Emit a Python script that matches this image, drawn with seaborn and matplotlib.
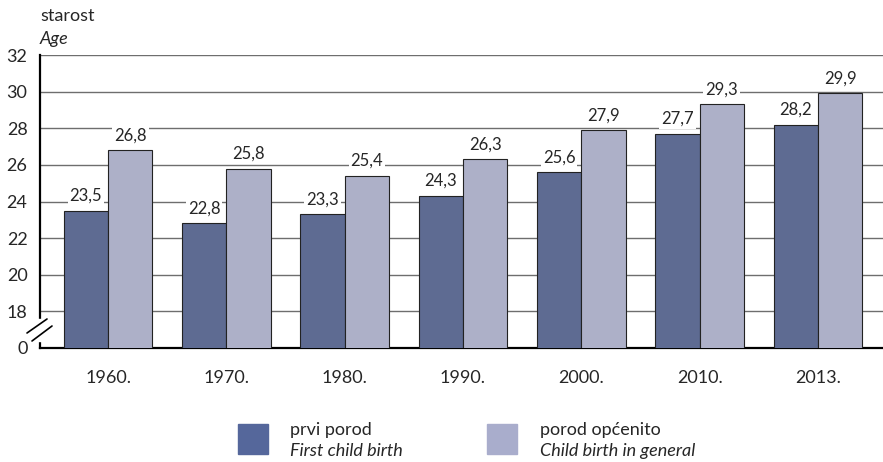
import pandas as pd
import matplotlib.pyplot as plt
import seaborn as sns
from matplotlib.patches import Rectangle

# data
godine = ["1960.", "1970.", "1980.", "1990.", "2000.", "2010.", "2013."]
prvi_porod = [23.5, 22.8, 23.3, 24.3, 25.6, 27.7, 28.2]
porod_opcenito = [26.8, 25.8, 25.4, 26.3, 27.9, 29.3, 29.9]
serije = ["prvi porod", "porod općenito"]
serije_en = ["First child birth", "Child birth in general"]
boje = ["#55679b", "#a9adcc"]

df = pd.DataFrame({
    "godina": godine * 2,
    "vrijednost": prvi_porod + porod_opcenito,
    "serija": [serije[0]] * len(godine) + [serije[1]] * len(godine),
})

sns.set_style("white")
plt.rcParams["font.family"] = ["Lato", "DejaVu Sans"]

fig = plt.figure(figsize=(8.83, 4.62), dpi=100)
ax = fig.add_axes([40 / 883, 1 - 348 / 462, 1 - 40 / 883, (348 - 55) / 462])

sns.barplot(data=df, x="godina", y="vrijednost", hue="serija", palette=boje,
            width=0.75, edgecolor="#222222", linewidth=0.8, ax=ax, legend=False,
            zorder=3)

ax.set_xlim(-0.575, 6.55)
ax.set_ylim(16, 32)
ax.set_yticks(range(16, 33, 2))
ax.set_yticklabels(["0"] + [str(v) for v in range(18, 33, 2)], fontsize=13)
ax.tick_params(axis="both", length=0, labelsize=13)
ax.tick_params(axis="x", pad=16)
ax.tick_params(axis="y", pad=9)
ax.set_xlabel("")
ax.set_ylabel("")

# grid lines
for v in range(18, 33, 2):
    ax.axhline(v, color="#6e6e6e", linewidth=1.0, zorder=1)

for s in ["top", "right"]:
    ax.spines[s].set_visible(False)
for s in ["left", "bottom"]:
    ax.spines[s].set_color("black")
    ax.spines[s].set_linewidth(1.6)

# value labels
for cont in ax.containers:
    for bar in cont:
        h = bar.get_height()
        ax.annotate(f"{h:.1f}".replace(".", ","),
                    (bar.get_x() + bar.get_width() / 2, h),
                    xytext=(0, 5), textcoords="offset points",
                    ha="center", va="bottom", fontsize=12, zorder=5,
                    bbox=dict(boxstyle="square,pad=0.12", fc="white", ec="none"))

# axis break marks
fig.add_artist(Rectangle((37 / 883, 1 - 341 / 462), 6 / 883, 22 / 462,
                         transform=fig.transFigure, color="white", zorder=4))
for x0, y0, x1, y1 in [(27, 333, 47, 319), (32, 341, 52, 326)]:
    fig.add_artist(plt.Line2D([x0 / 883, x1 / 883], [1 - y0 / 462, 1 - y1 / 462],
                              color="black", linewidth=1.2, zorder=5))

# y axis title
fig.text(40 / 883, 1 - 16 / 462, "starost", fontsize=13, va="center")
fig.text(40 / 883, 1 - 39 / 462, "Age", fontsize=13, va="center", style="italic")

# legend
for i, (x_sq, x_txt) in enumerate([(238, 290), (487, 540)]):
    fig.add_artist(Rectangle((x_sq / 883, 1 - 454 / 462), 30 / 883, 30 / 462,
                             transform=fig.transFigure, color=boje[i]))
    fig.text(x_txt / 883, 1 - 430 / 462, serije[i], fontsize=13, va="center")
    fig.text(x_txt / 883, 1 - 451 / 462, serije_en[i], fontsize=13, va="center",
             style="italic")

fig.savefig("out.png", dpi=100)
